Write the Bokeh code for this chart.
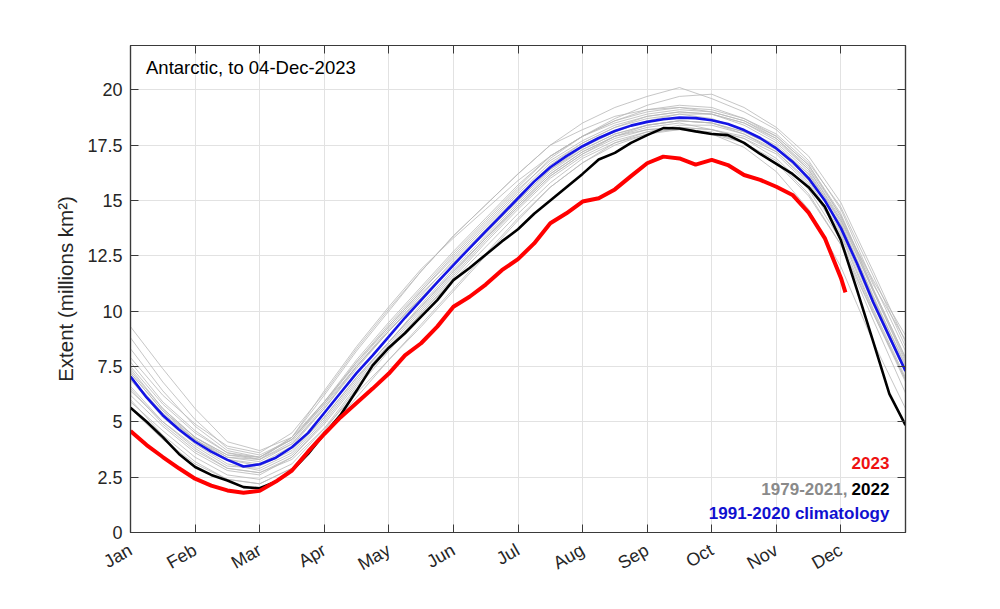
import math
from bokeh.plotting import figure
from bokeh.models import FixedTicker, LinearAxis, Label, Range1d
from bokeh.embed import file_html
from bokeh.resources import INLINE

# ---------------- data ----------------
months = ["Jan", "Feb", "Mar", "Apr", "May", "Jun", "Jul", "Aug", "Sep", "Oct", "Nov", "Dec"]
month_pos = list(range(12))
y_ticks = [0, 2.5, 5, 7.5, 10, 12.5, 15, 17.5, 20]
y_tick_labels = ["0", "2.5", "5", "7.5", "10", "12.5", "15", "17.5", "20"]

# x positions in months since 1 Jan (quarter-month sampling)
q_m = [i * 0.25 for i in range(49)]
h_m = [i * 0.5 for i in range(25)]

clim_1991_2020 = [7.05, 6.1, 5.3, 4.65, 4.1, 3.65, 3.28, 2.98, 3.08, 3.38, 3.85, 4.5,
                  5.4, 6.3, 7.2, 8.0, 8.85, 9.7, 10.5, 11.3, 12.08, 12.85, 13.6, 14.35,
                  15.1, 15.85, 16.5, 17.0, 17.45, 17.82, 18.14, 18.38, 18.55, 18.67, 18.74, 18.72,
                  18.62, 18.45, 18.18, 17.82, 17.35, 16.75, 16.0, 15.0, 13.75, 12.15, 10.4, 8.85, 7.3]

ext_2022 = [5.64, 5.0, 4.31, 3.55, 2.96, 2.6, 2.35, 2.05, 2.0, 2.3, 2.8, 3.55,
            4.45, 5.3, 6.4, 7.55, 8.35, 9.0, 9.75, 10.5, 11.4, 11.95, 12.55, 13.15,
            13.7, 14.4, 15.0, 15.6, 16.2, 16.85, 17.15, 17.6, 17.95, 18.27, 18.25, 18.12,
            18.0, 17.95, 17.6, 17.1, 16.65, 16.2, 15.6, 14.72, 13.2, 10.95, 8.62, 6.26, 4.85]

m_2023 = [i * 0.25 for i in range(45)] + [11.07]
ext_2023 = [4.58, 3.95, 3.41, 2.9, 2.43, 2.12, 1.9, 1.8, 1.88, 2.3, 2.8, 3.65,
            4.45, 5.2, 5.85, 6.5, 7.18, 8.0, 8.55, 9.3, 10.2, 10.65, 11.2, 11.85,
            12.35, 13.06, 13.97, 14.42, 14.95, 15.1, 15.5, 16.1, 16.68, 16.98, 16.9, 16.62,
            16.83, 16.6, 16.15, 15.93, 15.62, 15.25, 14.45, 13.3, 11.5, 10.85]

# individual years 1979-2021 (a representative subset, half-month sampling)
grey_years = [
    [7.9, 6.2, 4.9, 3.9, 3.6, 4.5, 6.3, 8.3, 10.1, 11.8, 13.4, 14.8, 16.2, 17.5, 18.5, 19.2, 19.7, 20.1, 19.6, 19.0, 18.2, 16.8, 14.6, 11.3, 8.2],
    [9.3, 7.4, 5.6, 4.1, 3.7, 4.3, 5.9, 7.6, 9.3, 10.9, 12.5, 14.0, 15.5, 16.8, 17.7, 18.4, 18.8, 19.0, 18.9, 18.5, 17.8, 16.5, 14.3, 11.2, 8.7],
    [5.6, 4.2, 3.1, 2.4, 2.2, 2.9, 4.6, 6.5, 8.2, 9.9, 11.5, 13.1, 14.6, 16.0, 17.0, 17.7, 18.1, 18.2, 18.0, 17.6, 16.8, 15.3, 13.0, 9.6, 6.3],
    [6.2, 4.8, 3.6, 2.8, 2.6, 3.4, 5.0, 6.8, 8.5, 10.1, 11.7, 13.3, 14.8, 16.2, 17.2, 17.9, 18.3, 18.5, 18.2, 17.8, 16.9, 15.5, 13.2, 9.9, 6.8],
    [7.0, 5.4, 4.2, 3.3, 3.1, 3.9, 5.6, 7.4, 9.1, 10.7, 12.3, 13.8, 15.3, 16.7, 17.6, 18.3, 18.8, 19.0, 18.9, 18.4, 17.6, 16.3, 14.0, 10.7, 7.5],
    [6.6, 5.0, 3.9, 3.0, 2.9, 3.6, 5.2, 7.0, 8.6, 10.3, 11.9, 13.4, 14.9, 16.3, 17.3, 18.0, 18.4, 18.6, 18.5, 18.0, 17.2, 15.8, 13.5, 10.1, 7.0],
    [7.5, 5.8, 4.5, 3.6, 3.3, 4.1, 5.8, 7.7, 9.4, 11.0, 12.6, 14.1, 15.6, 17.0, 17.9, 18.6, 19.1, 19.3, 19.2, 18.7, 17.9, 16.6, 14.4, 11.0, 7.9],
    [6.9, 5.2, 4.0, 3.1, 2.8, 3.5, 5.1, 6.9, 8.6, 10.2, 11.8, 13.3, 14.7, 16.1, 17.1, 17.8, 18.2, 18.3, 18.2, 17.9, 17.2, 15.9, 13.6, 10.3, 7.2],
    [7.3, 5.6, 4.3, 3.4, 3.2, 4.0, 5.6, 7.5, 9.2, 10.8, 12.2, 13.7, 15.2, 16.6, 17.6, 18.3, 18.7, 18.9, 18.7, 18.2, 17.5, 16.2, 13.9, 10.6, 7.6],
    [8.3, 6.4, 4.8, 3.7, 3.4, 4.2, 5.9, 7.7, 9.3, 10.9, 12.4, 13.9, 15.4, 16.9, 17.9, 18.6, 19.0, 19.2, 19.1, 18.7, 18.0, 16.7, 14.7, 11.6, 8.4],
    [6.4, 5.0, 3.8, 2.9, 2.7, 3.4, 4.9, 6.7, 8.4, 10.0, 11.6, 13.2, 14.7, 16.1, 17.1, 17.9, 18.4, 18.6, 18.5, 18.1, 17.4, 16.1, 13.8, 10.5, 7.4],
    [7.7, 5.9, 4.6, 3.6, 3.4, 4.2, 5.9, 7.8, 9.5, 11.1, 12.7, 14.2, 15.7, 17.0, 17.9, 18.5, 18.9, 19.1, 19.0, 18.6, 17.8, 16.4, 14.1, 10.9, 7.8],
    [5.9, 4.6, 3.4, 2.6, 2.4, 3.1, 4.7, 6.6, 8.3, 9.9, 11.4, 12.9, 14.4, 15.8, 16.9, 17.6, 18.0, 18.3, 18.2, 17.8, 17.1, 15.7, 13.4, 10.0, 6.9],
    [7.2, 5.5, 4.3, 3.5, 3.3, 4.0, 5.7, 7.5, 9.1, 10.6, 12.1, 13.5, 15.0, 16.4, 17.4, 18.1, 18.6, 18.9, 18.9, 18.5, 17.7, 16.4, 14.2, 10.9, 7.7],
    [6.5, 4.9, 3.7, 2.9, 2.7, 3.3, 4.7, 6.3, 7.8, 9.3, 10.9, 12.5, 14.1, 15.6, 16.7, 17.6, 18.1, 18.4, 18.4, 18.0, 17.3, 16.0, 13.9, 10.6, 7.3],
    [7.4, 5.6, 4.3, 3.5, 3.4, 4.3, 6.2, 8.2, 10.0, 11.8, 13.4, 14.8, 16.2, 17.5, 18.2, 18.8, 19.1, 19.2, 19.0, 18.6, 17.9, 16.6, 14.3, 11.0, 7.9],
    [8.8, 6.8, 5.1, 3.8, 3.5, 4.2, 5.8, 7.5, 9.1, 10.6, 12.1, 13.6, 15.0, 16.4, 17.3, 18.0, 18.4, 18.6, 18.5, 18.1, 17.4, 16.2, 14.1, 11.4, 8.9],
    [7.2, 5.5, 4.2, 3.3, 3.0, 3.7, 5.2, 7.0, 8.6, 10.2, 11.8, 13.3, 14.8, 16.2, 17.2, 17.9, 18.2, 18.3, 18.0, 17.4, 16.3, 14.6, 12.0, 8.6, 5.6],
    [6.9, 5.3, 4.2, 3.4, 3.3, 4.3, 6.4, 8.4, 10.2, 11.9, 13.3, 14.6, 15.9, 17.0, 17.9, 18.7, 19.3, 19.7, 19.8, 19.2, 18.3, 17.0, 14.9, 11.8, 8.6],
    [6.0, 4.4, 3.2, 2.4, 2.2, 2.9, 4.4, 6.1, 7.8, 9.4, 11.0, 12.6, 14.2, 15.6, 16.7, 17.5, 18.0, 18.2, 18.1, 17.6, 16.7, 15.2, 13.0, 9.9, 6.9],
]

title_text = "Antarctic, to 04-Dec-2023"

# ---------------- styling ----------------
FONT = "Liberation Sans"
AX = "#3a3a3a"
GRID = "#e2e2e2"

p = figure(width=980, height=590, x_range=Range1d(0, 12), y_range=Range1d(0, 22),
           output_backend="svg", toolbar_location=None,
           min_border_left=130, min_border_right=75, min_border_top=45, min_border_bottom=58)
p.background_fill_color = "white"
p.outline_line_color = AX
p.outline_line_width = 1.2

xa = p.below[0]
ya = p.left[0]
xa.ticker = FixedTicker(ticks=month_pos)
xa.major_label_overrides = {i: m for i, m in enumerate(months)}
xa.major_label_orientation = math.pi / 6
ya.ticker = FixedTicker(ticks=y_ticks)
ya.major_label_overrides = {t: l for t, l in zip(y_ticks, y_tick_labels)}
ya.axis_label = "Extent (millions km\u00b2)"
ya.axis_label_text_font = FONT
ya.axis_label_text_font_size = "20.5px"
ya.axis_label_text_font_style = "normal"
ya.axis_label_text_color = "#262626"
ya.axis_label_standoff = 7

for ax in (xa, ya):
    ax.major_tick_in = 8
    ax.major_tick_out = 0
    ax.minor_tick_line_color = None
    ax.axis_line_color = AX
    ax.axis_line_width = 1.2
    ax.major_tick_line_color = AX
    ax.major_label_text_font = FONT
    ax.major_label_text_font_size = "18px"
    ax.major_label_text_color = "#262626"
ya.major_label_standoff = 8
xa.major_label_standoff = 16

for side, tk in (("right", y_ticks), ("above", month_pos)):
    ax = LinearAxis(ticker=FixedTicker(ticks=tk), major_tick_in=8, major_tick_out=0,
                    minor_tick_line_color=None, major_label_text_color=None,
                    axis_line_color=AX, axis_line_width=1.2, major_tick_line_color=AX,
                    major_label_standoff=0)
    p.add_layout(ax, side)

p.xgrid.ticker = FixedTicker(ticks=month_pos)
p.ygrid.ticker = FixedTicker(ticks=y_ticks)
p.xgrid.grid_line_color = GRID
p.ygrid.grid_line_color = GRID

# ---------------- lines ----------------
for g in grey_years:
    p.line(h_m, g, line_color="#b8b8b8", line_width=0.8)
p.line(q_m, ext_2022, line_color="black", line_width=2.6)
p.line(q_m, clim_1991_2020, line_color="#1414e6", line_width=2.6)
p.line(m_2023, ext_2023, line_color="#ff0000", line_width=4)

# ---------------- texts ----------------
p.add_layout(Label(x=0.24, y=21.0, text=title_text, text_font=FONT, text_font_size="18.5px",
                   text_color="black", text_baseline="middle", text_align="left"))
p.add_layout(Label(x=11.75, y=3.12, text="2023", text_font=FONT, text_font_size="17px",
                   text_font_style="bold", text_color="#ee1111", text_baseline="middle", text_align="right"))
p.add_layout(Label(x=11.75, y=1.95, text="2022", text_font=FONT, text_font_size="17px",
                   text_font_style="bold", text_color="black", text_baseline="middle", text_align="right"))
p.add_layout(Label(x=11.10, y=1.95, text="1979-2021,", text_font=FONT, text_font_size="17px",
                   text_font_style="bold", text_color="#8a8a8a", text_baseline="middle", text_align="right"))
p.add_layout(Label(x=11.75, y=0.86, text="1991-2020 climatology", text_font=FONT, text_font_size="17px",
                   text_font_style="bold", text_color="#1010d0", text_baseline="middle", text_align="right"))

open("out.html", "w").write(file_html(p, INLINE))
